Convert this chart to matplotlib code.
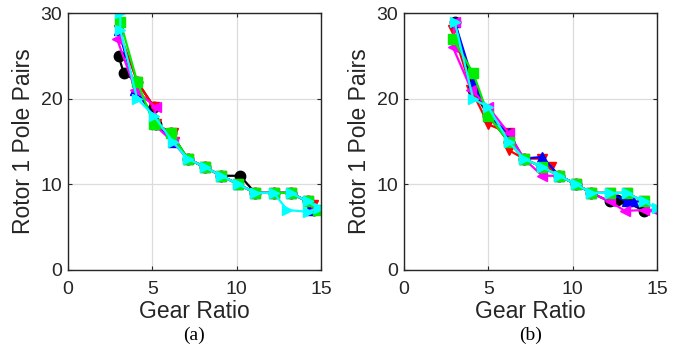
import matplotlib.pyplot as plt
import numpy as np

plt.rcParams['font.family'] = ['Liberation Sans', 'DejaVu Sans']

# panel (a): gear ratio vs rotor 1 pole pairs, one list pair per series
a_black_x = [3.0, 3.3, 4.1, 5.1, 5.2, 6.1, 7.1, 8.1, 9.1, 10.2, 11.1, 12.2, 13.2, 14.2, 14.6]
a_black_y = [25, 23, 22, 19, 17, 16, 13, 12, 11, 11, 9, 9, 9, 8, 7]
a_red_x = [3.0, 4.1, 5.1, 5.2, 6.2, 6.3, 7.1, 8.1, 9.1, 10.1, 11.1, 12.2, 13.2, 14.2, 14.5]
a_red_y = [28, 22, 19, 17, 16, 15, 13, 12, 11, 10, 9, 9, 9, 8, 7.6]
a_blue_x = [3.0, 4.0, 5.1, 5.2, 6.2, 7.1, 8.1, 9.1, 10.1, 11.1, 12.2, 13.2, 14.2, 14.3]
a_blue_y = [28, 21, 18, 17, 15, 13, 12, 11, 10, 9, 9, 9, 8, 7]
a_mag_x = [2.9, 4.0, 5.2, 5.1, 6.2, 7.1, 8.1, 9.1, 10.1, 11.1, 12.2, 13.2, 14.2, 14.6]
a_mag_y = [27, 21, 19, 17, 15, 13, 12, 11, 10, 9, 9, 9, 8, 7]
a_green_x = [3.1, 4.1, 5.1, 6.1, 7.1, 8.1, 9.1, 10.1, 11.1, 12.2, 13.2, 14.2, 14.8]
a_green_y = [29, 22, 17, 16, 13, 12, 11, 10, 9, 9, 9, 8, 7]
a_cyan_x = [3.1, 3.1, 4.1, 5.1, 6.2, 7.1, 8.1, 9.1, 10.1, 11.1, 12.2, 13.0, 14.2, 14.9, 14.2, 13.2]
a_cyan_y = [30, 28, 20, 18, 15, 13, 12, 11, 10, 9, 9, 7, 6.8, 7.2, 8, 9]

# panel (b)
b_black_x = [3.0, 4.1, 5.0, 6.2, 7.1, 8.2, 9.2, 10.2, 11.1, 12.2, 12.6, 13.2, 14.2]
b_black_y = [29, 21, 18, 15, 13, 12, 11, 10, 9, 8, 8.2, 8, 6.9]
b_red_x = [2.9, 4.0, 5.0, 6.2, 6.2, 7.1, 8.2, 8.7, 9.2, 10.2, 11.1, 12.2, 13.2, 14.2]
b_red_y = [28, 21, 17, 16, 14, 13, 13, 12, 11, 10, 9, 9, 9, 8]
b_blue_x = [3.0, 4.1, 5.0, 6.2, 7.1, 8.2, 9.2, 10.2, 11.1, 12.2, 13.2, 13.6, 14.2]
b_blue_y = [29, 22, 18, 16, 13, 13.2, 11, 10, 9, 9, 8, 8, 8]
b_mag_x = [3.0, 2.9, 4.0, 5.0, 6.2, 7.1, 8.2, 9.2, 10.2, 11.1, 12.2, 13.1, 14.2, 14.8]
b_mag_y = [29, 26, 21, 19, 16, 13, 11, 11, 10, 9, 8, 6.9, 7, 7]
b_green_x = [2.9, 4.1, 5.0, 6.2, 7.1, 8.2, 9.2, 10.2, 11.1, 12.2, 13.2, 14.2]
b_green_y = [27, 23, 18, 15, 13, 12, 11, 10, 9, 9, 9, 8]
b_cyan_x = [3.0, 4.1, 5.0, 6.2, 7.1, 8.2, 9.2, 10.2, 11.1, 12.2, 13.2, 14.2, 15.0]
b_cyan_y = [29, 20, 19, 15, 13, 12, 11, 10, 9, 9, 9, 8, 7.2]

colors = ['black', 'red', 'blue', 'magenta', '#00ee00', 'cyan']
markers = ['o', 'v', '^', '<', 's', '>']

panel_a = [(a_black_x, a_black_y), (a_red_x, a_red_y), (a_blue_x, a_blue_y),
           (a_mag_x, a_mag_y), (a_green_x, a_green_y), (a_cyan_x, a_cyan_y)]
panel_b = [(b_black_x, b_black_y), (b_red_x, b_red_y), (b_blue_x, b_blue_y),
           (b_mag_x, b_mag_y), (b_green_x, b_green_y), (b_cyan_x, b_cyan_y)]

fig = plt.figure(figsize=(6.94, 3.53), dpi=100)
ax1 = fig.add_axes([68/694, 83/353, 253/694, 257/353])
ax2 = fig.add_axes([404/694, 83/353, 253/694, 257/353])
dark = '#262626'

for ax, data, tag in [(ax1, panel_a, '(a)'), (ax2, panel_b, '(b)')]:
    for (x, y), c, m in zip(data, colors, markers):
        ax.plot(x, y, color=c, marker=m, markersize=7.5, linewidth=1.6,
                markeredgecolor=c)
    ax.set_xlim(0, 15)
    ax.set_ylim(0, 30)
    ax.set_xticks([0, 5, 10, 15])
    ax.set_yticks([0, 10, 20, 30])
    ax.grid(True, color='#dcdcdc', linewidth=0.9)
    ax.set_axisbelow(True)
    ax.tick_params(direction='in', top=True, right=True, length=3,
                   labelsize=14, colors=dark)
    ax.tick_params(axis='x', pad=8)
    ax.tick_params(axis='y', pad=4)
    for s in ax.spines.values():
        s.set_color(dark)
        s.set_linewidth(1.0)
    ax.set_xlabel('Gear Ratio', fontsize=16.5, color=dark, labelpad=1)
    ax.set_ylabel('Rotor 1 Pole Pairs', fontsize=16.5, color=dark, labelpad=4)
    ax.text(0.5, -0.253, tag, transform=ax.transAxes, ha='center', va='center',
            fontsize=14, family='Liberation Serif')

fig.savefig('out.png', dpi=100)
